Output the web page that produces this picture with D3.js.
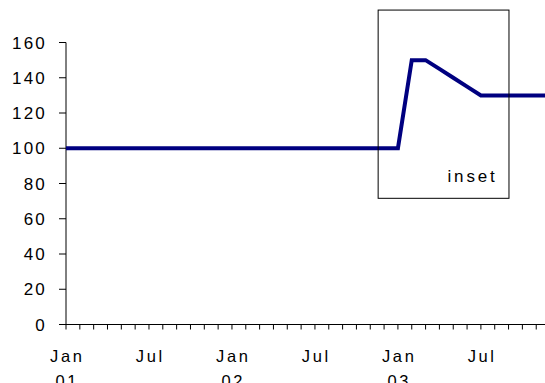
<!DOCTYPE html>
<html>
<head>
<meta charset="utf-8">
<script src="https://cdn.jsdelivr.net/npm/d3@7"></script>
<style>
  html, body { margin: 0; padding: 0; background: #fff; overflow: hidden; }
  svg { display: block; }
  text { font-family: "Liberation Sans", Arial, sans-serif; fill: #000; }
</style>
</head>
<body>
<script>
// Monthly index values, Jan 2001 – Dec 2003
const months = d3.range(36).map(i => new Date(2001, i, 1));
const values = [
  100, 100, 100, 100, 100, 100, 100, 100, 100, 100, 100, 100,   // 2001
  100, 100, 100, 100, 100, 100, 100, 100, 100, 100, 100, 100,   // 2002
  100, 150, 150, 145, 140, 135, 130, 130, 130, 130, 130, 130    // 2003
];
const yTicks = [0, 20, 40, 60, 80, 100, 120, 140, 160];
const xLabelMonths = [0, 6, 12, 18, 24, 30];           // month index of each label
const xLabelTop = ["Jan", "Jul", "Jan", "Jul", "Jan", "Jul"];
const xLabelBottom = ["01", "", "02", "", "03", ""];
const insetLabel = "inset";
const insetStart = 22.57, insetEnd = 32.03;          // months covered by the inset box
const insetTop = 178.4, insetBottom = 71.6;          // value range of the inset box

const W = 545, H = 383;
const svg = d3.select("body").append("svg").attr("width", W).attr("height", H);

const x0 = 66, monthW = 13.83;
const x = d3.scaleLinear().domain([0, 36]).range([x0, x0 + 36 * monthW]);
const y = d3.scaleLinear().domain([0, 160]).range([324.5, 42.5]);

// Y axis
const yAxis = svg.append("g").attr("transform", `translate(${x0},0)`);
yAxis.append("line").attr("x1", 0).attr("x2", 0).attr("y1", y(160)).attr("y2", y(0))
  .attr("stroke", "#000").attr("stroke-width", 1);
yAxis.selectAll("line.tick").data(yTicks).join("line").attr("class", "tick")
  .attr("x1", -7).attr("x2", 0).attr("y1", d => y(d)).attr("y2", d => y(d))
  .attr("stroke", "#000");
yAxis.selectAll("text").data(yTicks).join("text")
  .attr("x", -19).attr("y", d => y(d)).attr("dy", "0.36em")
  .attr("text-anchor", "end").attr("font-size", 17).attr("letter-spacing", 2.2)
  .text(d => d);

// X axis with monthly ticks
const xAxis = svg.append("g");
xAxis.append("line").attr("x1", x0 - 7).attr("x2", x(36)).attr("y1", y(0)).attr("y2", y(0))
  .attr("stroke", "#000");
xAxis.selectAll("line.tick").data(d3.range(37)).join("line").attr("class", "tick")
  .attr("x1", d => x(d)).attr("x2", d => x(d)).attr("y1", y(0)).attr("y2", y(0) + 5)
  .attr("stroke", "#000");
const xl = xAxis.selectAll("g.lbl").data(xLabelMonths).join("g").attr("class", "lbl");
xl.append("text").attr("x", d => x(d) + 1.3).attr("y", 362)
  .attr("text-anchor", "middle").attr("font-size", 16.5).attr("letter-spacing", 2.6)
  .text((d, i) => xLabelTop[i]);
xl.append("text").attr("x", d => x(d) + 1.3).attr("y", 387)
  .attr("text-anchor", "middle").attr("font-size", 16.5).attr("letter-spacing", 2.6)
  .text((d, i) => xLabelBottom[i]);

// Series line
const line = d3.line().x((d, i) => x(i)).y(d => y(d));
svg.append("path").datum(values).attr("d", line)
  .attr("fill", "none").attr("stroke", "#000080").attr("stroke-width", 4)
  .attr("stroke-linejoin", "miter");

// Inset box
svg.append("rect")
  .attr("x", x(insetStart)).attr("y", y(insetTop))
  .attr("width", x(insetEnd) - x(insetStart)).attr("height", y(insetBottom) - y(insetTop))
  .attr("fill", "none").attr("stroke", "#000").attr("stroke-width", 1);
svg.append("text").attr("x", x(insetEnd) - 11.5).attr("y", 182)
  .attr("text-anchor", "end").attr("font-size", 17).attr("letter-spacing", 2.8)
  .text(insetLabel);
</script>
</body>
</html>
